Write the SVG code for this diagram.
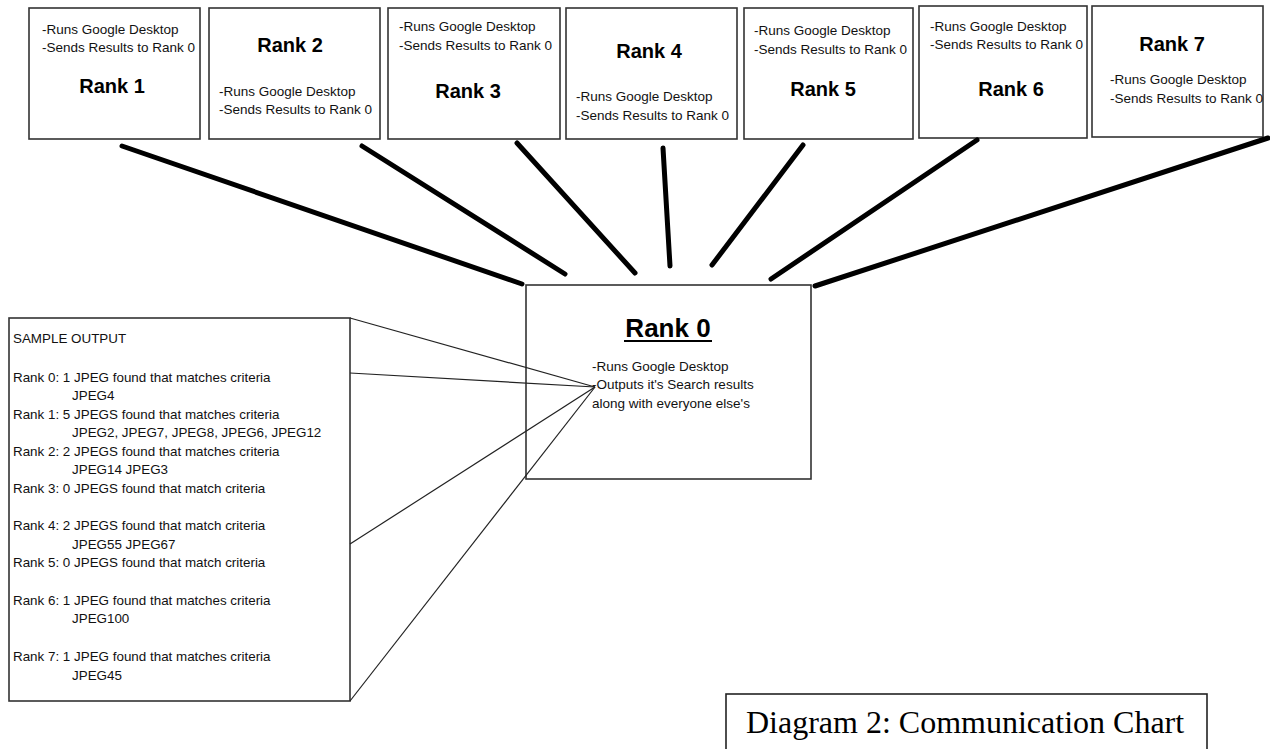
<svg xmlns="http://www.w3.org/2000/svg" width="1270" height="749" viewBox="0 0 1270 749">
<style>
.box{fill:#fff;stroke:#333;stroke-width:1.6}
.t{font-family:"Liberation Sans",Arial,sans-serif;font-size:13.5px;fill:#111}
.h{font-family:"Liberation Sans",Arial,sans-serif;font-size:20px;font-weight:bold;fill:#000;text-anchor:middle}
.s{font-family:"Liberation Sans",Arial,sans-serif;font-size:13.4px;fill:#111}
.thick{stroke:#000;stroke-width:5;stroke-linecap:round;fill:none}
.thin{stroke:#222;stroke-width:1.2;fill:none}
</style>
<rect width="1270" height="749" fill="#fff"/>
<g id="rank1">
<rect class="box" x="29" y="8" width="171" height="131"/>
<text class="t" x="42" y="34">-Runs Google Desktop</text>
<text class="t" x="42" y="52">-Sends Results to Rank 0</text>
<text class="h" x="112" y="93">Rank 1</text>
</g>
<g id="rank2">
<rect class="box" x="209" y="8" width="171" height="131"/>
<text class="h" x="290" y="52">Rank 2</text>
<text class="t" x="219" y="96">-Runs Google Desktop</text>
<text class="t" x="219" y="114">-Sends Results to Rank 0</text>
</g>
<g id="rank3">
<rect class="box" x="388" y="8" width="172" height="131"/>
<text class="t" x="399" y="31">-Runs Google Desktop</text>
<text class="t" x="399" y="50">-Sends Results to Rank 0</text>
<text class="h" x="468" y="98">Rank 3</text>
</g>
<g id="rank4">
<rect class="box" x="566" y="8" width="171" height="131"/>
<text class="h" x="649" y="58">Rank 4</text>
<text class="t" x="576" y="101">-Runs Google Desktop</text>
<text class="t" x="576" y="120">-Sends Results to Rank 0</text>
</g>
<g id="rank5">
<rect class="box" x="744" y="8" width="169" height="131"/>
<text class="t" x="754" y="35">-Runs Google Desktop</text>
<text class="t" x="754" y="54">-Sends Results to Rank 0</text>
<text class="h" x="823" y="96">Rank 5</text>
</g>
<g id="rank6">
<rect class="box" x="919" y="6" width="168" height="132"/>
<text class="t" x="930" y="31">-Runs Google Desktop</text>
<text class="t" x="930" y="49">-Sends Results to Rank 0</text>
<text class="h" x="1011" y="96">Rank 6</text>
</g>
<g id="rank7">
<rect class="box" x="1092" y="6" width="171" height="131"/>
<text class="h" x="1172" y="51">Rank 7</text>
<text class="t" x="1110" y="84">-Runs Google Desktop</text>
<text class="t" x="1110" y="103">-Sends Results to Rank 0</text>
</g>
<g id="rank0">
<rect class="box" x="526" y="285" width="285" height="194"/>
<text class="h" x="668" y="337" style="font-size:26px">Rank 0</text>
<line x1="624" y1="341" x2="712" y2="341" stroke="#000" stroke-width="2"/>
<text class="t" x="592" y="371">-Runs Google Desktop</text>
<text class="t" x="592" y="389">-Outputs it's Search results</text>
<text class="t" x="592" y="408">along with everyone else's</text>
</g>
<g id="sample-output">
<rect class="box" x="9" y="318" width="341" height="383"/>
<text class="s" x="13" y="343">SAMPLE OUTPUT</text>
<text class="s" x="13" y="382">Rank 0: 1 JPEG found that matches criteria</text>
<text class="s" x="72" y="400">JPEG4</text>
<text class="s" x="13" y="419">Rank 1: 5 JPEGS found that matches criteria</text>
<text class="s" x="72" y="437">JPEG2, JPEG7, JPEG8, JPEG6, JPEG12</text>
<text class="s" x="13" y="456">Rank 2: 2 JPEGS found that matches criteria</text>
<text class="s" x="72" y="474">JPEG14 JPEG3</text>
<text class="s" x="13" y="493">Rank 3: 0 JPEGS found that match criteria</text>
<text class="s" x="13" y="530">Rank 4: 2 JPEGS found that match criteria</text>
<text class="s" x="72" y="549">JPEG55 JPEG67</text>
<text class="s" x="13" y="567">Rank 5: 0 JPEGS found that match criteria</text>
<text class="s" x="13" y="605">Rank 6: 1 JPEG found that matches criteria</text>
<text class="s" x="72" y="623">JPEG100</text>
<text class="s" x="13" y="661">Rank 7: 1 JPEG found that matches criteria</text>
<text class="s" x="72" y="680">JPEG45</text>
</g>
<g id="connectors">
<line class="thick" x1="122" y1="146" x2="522" y2="284"/>
<line class="thick" x1="362" y1="146" x2="565" y2="274"/>
<line class="thick" x1="517" y1="143" x2="635" y2="273"/>
<line class="thick" x1="663" y1="148" x2="670" y2="266"/>
<line class="thick" x1="803" y1="145" x2="712" y2="265"/>
<line class="thick" x1="977" y1="140" x2="771" y2="279"/>
<line class="thick" x1="1268" y1="138" x2="815" y2="286"/>
<line class="thin" x1="350" y1="318" x2="595" y2="387"/>
<line class="thin" x1="350" y1="373" x2="595" y2="387"/>
<line class="thin" x1="350" y1="544" x2="595" y2="387"/>
<line class="thin" x1="350" y1="701" x2="595" y2="387"/>
</g>
<g id="caption">
<rect x="726" y="694" width="481" height="70" fill="#fff" stroke="#222" stroke-width="1.6"/>
<text x="746" y="733" style="font-family:'Liberation Serif','Times New Roman',serif;font-size:32px;fill:#000">Diagram 2: Communication Chart</text>
</g>
</svg>
